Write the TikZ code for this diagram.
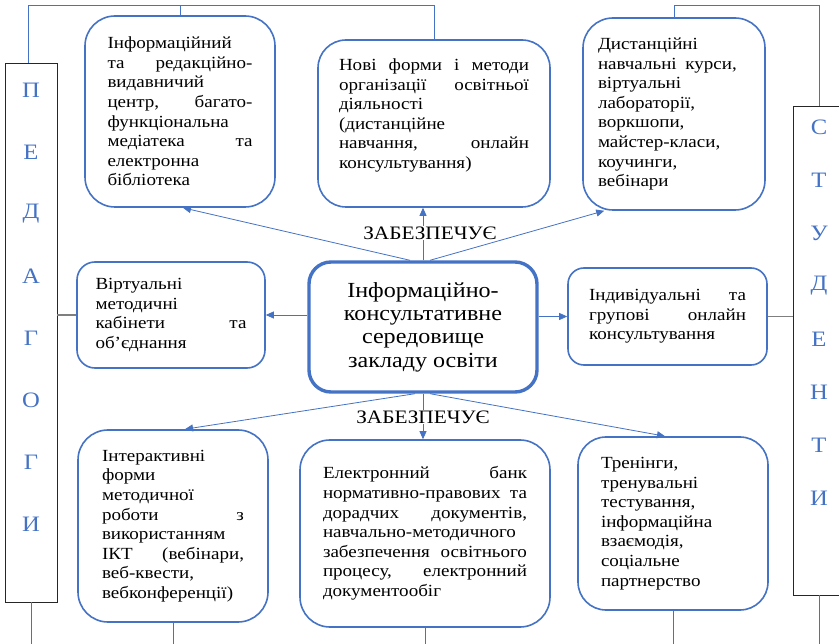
\documentclass[tikz,border=0pt]{standalone}
\usepackage{fontspec}
\setmainfont[FakeStretch=1.12]{Liberation Serif}
\usetikzlibrary{arrows.meta}
\definecolor{wordblue}{RGB}{68,114,196}
\definecolor{sidegray}{RGB}{127,127,127}

\begin{document}
\begin{tikzpicture}[x = 1pt, y = -1pt]
\tikzstyle{BoxStyle}=[draw = wordblue, line width = 1.6pt,
                      inner sep = 0pt, align = left,
                      font = \fontsize{17}{19.6}\selectfont]
\tikzstyle{SideStyle}=[draw = black!85, line width = 0.8pt, inner sep = 0pt]
\tikzstyle{LetterStyle}=[text = wordblue, font = \fontsize{22}{22}\selectfont]
\tikzstyle{LinkStyle}=[draw = wordblue, line width = 0.8pt]
\tikzstyle{ArrowStyle}=[LinkStyle, -{Triangle[length = 8pt, width = 7pt]}]
\tikzstyle{GrayStyle}=[draw = sidegray, line width = 1.2pt]
\tikzstyle{SaysStyle}=[fill = white, inner sep = 1pt,
                       font = \fontsize{19}{19}\selectfont]

\useasboundingbox (0,0) rectangle (839,644);

% side columns
\node[SideStyle, minimum width = 52pt, minimum height = 539pt] (ped) at (31,332.5) {};
\node[SideStyle, minimum width = 52pt, minimum height = 489pt] (stud) at (819,350.5) {};
\foreach \l [count = \i] in {П,Е,Д,А,Г,О,Г,И}
  \node[LetterStyle] (ped\i) at (31,{90+62*(\i-1)}) {\l};
\foreach \l [count = \i] in {С,Т,У,Д,Е,Н,Т,И}
  \node[LetterStyle] (stud\i) at (819,{127+53*(\i-1)}) {\l};

% top row
\node[BoxStyle, rounded corners = 30pt, minimum width = 190pt, minimum height = 191pt,
      text width = 145pt] (info) at (180,111.5)
  {Інформаційний\\
   та\hfill редакційно-\\
   видавничий\\
   центр,\hfill багато-\\
   функціональна\\
   медіатека\hfill та\\
   електронна\\
   бібліотека};
\node[BoxStyle, rounded corners = 28pt, minimum width = 232pt, minimum height = 167pt,
      text width = 190pt] (forms) at (434,123.5)
  {Нові\hfill форми\hfill і\hfill методи\\
   організації\hfill освітньої\\
   діяльності\\
   (дистанційне\\
   навчання,\hfill онлайн\\
   консультування)\\
   \mbox{}};
\node[BoxStyle, rounded corners = 30pt, minimum width = 182pt, minimum height = 192pt,
      text width = 152pt] (dist) at (674,114)
  {Дистанційні\\
   навчальні\hspace{3pt} курси,\\
   віртуальні\\
   лабораторії,\\
   воркшопи,\\
   майстер-класи,\\
   коучинги,\\
   вебінари};

% middle row
\node[BoxStyle, rounded corners = 18pt, minimum width = 188pt, minimum height = 106pt,
      text width = 151pt] (virt) at (171,315)
  {Віртуальні\\
   методичні\\
   кабінети\hfill та\\
   об’єднання};
\node[BoxStyle, line width = 3.4pt, rounded corners = 22pt, minimum width = 228pt,
      minimum height = 130pt, align = center,
      font = \fontsize{21.5}{23.3}\selectfont] (env) at (423,327)
  {Інформаційно-\\
   консультативне\\
   середовище\\
   закладу освіти};
\node[BoxStyle, rounded corners = 16pt, minimum width = 199pt, minimum height = 97pt,
      text width = 157pt] (indiv) at (667.5,316.5)
  {Індивідуальні\hfill та\\
   групові\hfill онлайн\\
   консультування};

% bottom row
\node[BoxStyle, rounded corners = 30pt, minimum width = 190pt, minimum height = 192pt,
      text width = 142pt] (interact) at (173,526)
  {Інтерактивні\\
   форми\\
   методичної\\
   роботи\hfill з\\
   використанням\\
   ІКТ\hfill (вебінари,\\
   веб-квести,\\
   вебконференції)};
\node[BoxStyle, rounded corners = 30pt, minimum width = 250pt, minimum height = 187pt,
      text width = 204pt] (bank) at (425,533.5)
  {Електронний\hfill банк\\
   нормативно-правових\hfill та\\
   дорадчих\hfill документів,\\
   навчально-методичного\\
   забезпечення\hfill освітнього\\
   процесу,\hfill електронний\\
   документообіг};
\node[BoxStyle, rounded corners = 28pt, minimum width = 190pt, minimum height = 173pt,
      text width = 144pt] (tren) at (673,523.5)
  {Тренінги,\\
   тренувальні\\
   тестування,\\
   інформаційна\\
   взаємодія,\\
   соціальне\\
   партнерство};

% frame lines
\coordinate (topL) at (28,5);
\coordinate (topR) at (819,5);
\coordinate (bot) at (0,644);
\draw[LinkStyle] ([xshift = -3pt]ped.north) |- (topL) -| (forms.north);
\draw[LinkStyle] (info.north) -- (info.north |- topL);
\draw[LinkStyle] (dist.north) |- (topR) -- (stud.north);
\foreach \n in {ped, interact, bank, tren, stud}
  \draw[LinkStyle] (\n.south) -- (\n.south |- bot);
\draw[GrayStyle] (ped.east |- virt.west) -- (virt.west);
\draw[GrayStyle] (indiv.east) -- (indiv.east -| stud.west);

% arrows
\draw[ArrowStyle] ([xshift = -13pt]env.north) -- ([xshift = 3pt]info.south);
\draw[ArrowStyle] (env.north) -- (env.north |- forms.south);
\draw[ArrowStyle] ([xshift = 7pt]env.north) -- ([xshift = 22pt]dist.south west);
\draw[ArrowStyle] (env.west |- virt.east) -- (virt.east);
\draw[ArrowStyle] (env.east |- indiv.west) -- (indiv.west);
\draw[ArrowStyle] ([xshift = -8pt]env.south) -- ([xshift = 12pt]interact.north);
\draw[ArrowStyle] (env.south) -- (env.south |- bank.north);
\draw[ArrowStyle] ([xshift = 7pt]env.south) -- ([xshift = -8pt]tren.north);

\node[SaysStyle] (says1) at (430,233) {ЗАБЕЗПЕЧУЄ};
\node[SaysStyle] (says2) at (423,417) {ЗАБЕЗПЕЧУЄ};
\end{tikzpicture}
\end{document}
